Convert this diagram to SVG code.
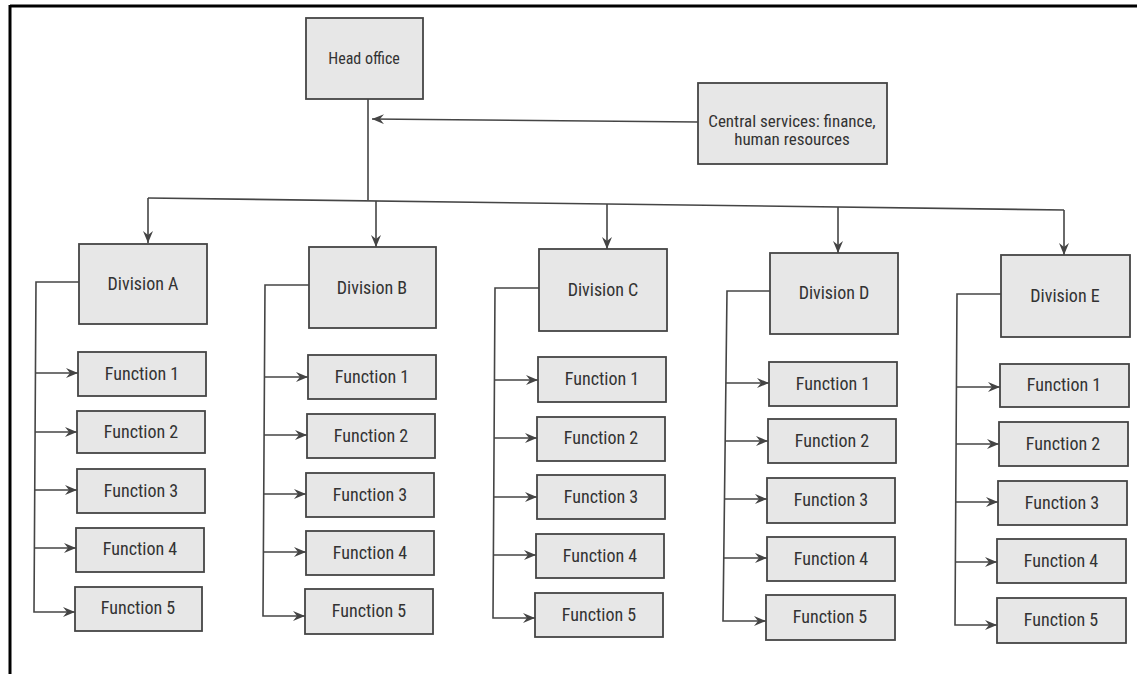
<svg xmlns="http://www.w3.org/2000/svg" width="1137" height="674" viewBox="0 0 1137 674">
<style>
.box{fill:#e7e7e7;stroke:#454545;stroke-width:1.8}
.t{font-family:"Liberation Sans Narrow","Roboto Condensed","Liberation Sans",sans-serif;font-size:18px;fill:#333;text-anchor:middle}
.ln{fill:none;stroke:#454545;stroke-width:1.6}
.ar{fill:none;stroke:#454545;stroke-width:1.6;marker-end:url(#ah)}
</style>
<defs>
<marker id="ah" viewBox="0 0 12 10" refX="12" refY="5" markerWidth="12" markerHeight="10" markerUnits="userSpaceOnUse" orient="auto">
<path d="M0,0 L12,5 L0,10 L4,5 z" fill="#444"/>
</marker>
</defs>
<rect width="1137" height="674" fill="#fff"/>
<g id="frame">
<line x1="10" y1="6" x2="1137" y2="6" stroke="#000" stroke-width="3"/>
<line x1="10" y1="5" x2="10" y2="674" stroke="#000" stroke-width="3"/>
</g>
<g id="connectors">
<path class="ln" d="M368,99 L368,200"/>
<path class="ar" d="M698,122 L372,119"/>
<path class="ln" d="M148,198 L1064,210"/>
<path class="ar" d="M148,198 L148,243"/>
<path class="ar" d="M376,201 L376,247"/>
<path class="ar" d="M607,204 L607,249"/>
<path class="ar" d="M838,207 L838,253"/>
<path class="ar" d="M1064,210 L1064,255"/>
<!-- A -->
<path class="ar" d="M79,282 L36,282 L34,612 L75,612"/>
<path class="ar" d="M36,373 L78,373"/>
<path class="ar" d="M35,432 L77,432"/>
<path class="ar" d="M35,490 L77,490"/>
<path class="ar" d="M34,548 L76,548"/>
<!-- B -->
<path class="ar" d="M309,285 L265,285 L263,616 L305,616"/>
<path class="ar" d="M265,377 L308,377"/>
<path class="ar" d="M264,435 L307,435"/>
<path class="ar" d="M264,494 L306,494"/>
<path class="ar" d="M263,552 L306,552"/>
<!-- C -->
<path class="ar" d="M539,288 L495,288 L493,618 L535,618"/>
<path class="ar" d="M495,380 L538,380"/>
<path class="ar" d="M494,438 L537,438"/>
<path class="ar" d="M494,497 L537,497"/>
<path class="ar" d="M493,555 L536,555"/>
<!-- D -->
<path class="ar" d="M770,291 L727,291 L723,621 L766,621"/>
<path class="ar" d="M726,383 L769,383"/>
<path class="ar" d="M725,441 L768,441"/>
<path class="ar" d="M725,499 L767,499"/>
<path class="ar" d="M724,558 L767,558"/>
<!-- E -->
<path class="ar" d="M1001,294 L957,294 L955,625 L997,625"/>
<path class="ar" d="M957,387 L1000,387"/>
<path class="ar" d="M956,444 L999,444"/>
<path class="ar" d="M956,502 L998,502"/>
<path class="ar" d="M955,562 L997,562"/>
</g>
<g id="head-office"><rect class="box" x="306" y="18" width="117" height="81"/><text class="t" x="364" y="64" style="font-size:16px">Head office</text></g>
<g id="central-services"><rect class="box" x="698" y="83" width="189" height="81"/><text class="t" x="792" y="127" style="font-size:17px">Central services: finance,</text><text class="t" x="792" y="145" style="font-size:17px">human resources</text></g>

<g id="division-a"><rect class="box" x="79" y="244" width="128" height="80"/><text class="t" x="143" y="290">Division A</text></g>
<g id="a-f1"><rect class="box" x="78" y="352" width="128" height="44"/><text class="t" x="142" y="380">Function 1</text></g>
<g id="a-f2"><rect class="box" x="77" y="411" width="128" height="42"/><text class="t" x="141" y="438">Function 2</text></g>
<g id="a-f3"><rect class="box" x="77" y="469" width="128" height="44"/><text class="t" x="141" y="497">Function 3</text></g>
<g id="a-f4"><rect class="box" x="76" y="528" width="128" height="44"/><text class="t" x="140" y="555">Function 4</text></g>
<g id="a-f5"><rect class="box" x="75" y="587" width="127" height="44"/><text class="t" x="138" y="614">Function 5</text></g>

<g id="division-b"><rect class="box" x="309" y="247" width="127" height="81"/><text class="t" x="372" y="294">Division B</text></g>
<g id="b-f1"><rect class="box" x="308" y="355" width="128" height="44"/><text class="t" x="372" y="383">Function 1</text></g>
<g id="b-f2"><rect class="box" x="307" y="414" width="128" height="44"/><text class="t" x="371" y="442">Function 2</text></g>
<g id="b-f3"><rect class="box" x="306" y="473" width="128" height="44"/><text class="t" x="370" y="501">Function 3</text></g>
<g id="b-f4"><rect class="box" x="306" y="531" width="128" height="44"/><text class="t" x="370" y="559">Function 4</text></g>
<g id="b-f5"><rect class="box" x="305" y="589" width="128" height="45"/><text class="t" x="369" y="617">Function 5</text></g>

<g id="division-c"><rect class="box" x="539" y="249" width="128" height="82"/><text class="t" x="603" y="296">Division C</text></g>
<g id="c-f1"><rect class="box" x="538" y="357" width="128" height="45"/><text class="t" x="602" y="385">Function 1</text></g>
<g id="c-f2"><rect class="box" x="537" y="417" width="128" height="44"/><text class="t" x="601" y="444">Function 2</text></g>
<g id="c-f3"><rect class="box" x="537" y="475" width="128" height="44"/><text class="t" x="601" y="503">Function 3</text></g>
<g id="c-f4"><rect class="box" x="536" y="534" width="128" height="44"/><text class="t" x="600" y="562">Function 4</text></g>
<g id="c-f5"><rect class="box" x="535" y="593" width="128" height="44"/><text class="t" x="599" y="621">Function 5</text></g>

<g id="division-d"><rect class="box" x="770" y="253" width="128" height="81"/><text class="t" x="834" y="299">Division D</text></g>
<g id="d-f1"><rect class="box" x="769" y="362" width="128" height="44"/><text class="t" x="833" y="390">Function 1</text></g>
<g id="d-f2"><rect class="box" x="768" y="419" width="128" height="44"/><text class="t" x="832" y="447">Function 2</text></g>
<g id="d-f3"><rect class="box" x="767" y="478" width="128" height="45"/><text class="t" x="831" y="506">Function 3</text></g>
<g id="d-f4"><rect class="box" x="767" y="537" width="128" height="44"/><text class="t" x="831" y="565">Function 4</text></g>
<g id="d-f5"><rect class="box" x="766" y="595" width="129" height="45"/><text class="t" x="830" y="623">Function 5</text></g>

<g id="division-e"><rect class="box" x="1001" y="255" width="129" height="82"/><text class="t" x="1065" y="302">Division E</text></g>
<g id="e-f1"><rect class="box" x="1000" y="364" width="129" height="43"/><text class="t" x="1064" y="391">Function 1</text></g>
<g id="e-f2"><rect class="box" x="999" y="422" width="129" height="44"/><text class="t" x="1063" y="450">Function 2</text></g>
<g id="e-f3"><rect class="box" x="998" y="481" width="129" height="44"/><text class="t" x="1062" y="509">Function 3</text></g>
<g id="e-f4"><rect class="box" x="997" y="539" width="129" height="44"/><text class="t" x="1061" y="567">Function 4</text></g>
<g id="e-f5"><rect class="box" x="997" y="598" width="129" height="45"/><text class="t" x="1061" y="626">Function 5</text></g>
</svg>
